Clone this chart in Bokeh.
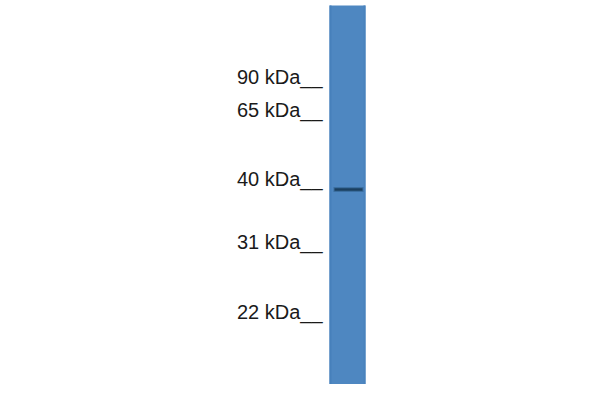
from bokeh.plotting import figure
from bokeh.models import Range1d
from bokeh.core.properties import value
from bokeh.embed import file_html
from bokeh.resources import INLINE

# Marker ladder (labels and their migration position on the blot, px from top)
marker_labels = ["90 kDa__", "65 kDa__", "40 kDa__", "31 kDa__", "22 kDa__"]
marker_pos = [76.5, 109.5, 178.5, 241.5, 311.5]

# Lane extent (migration, px) and detected band position
lane_top = [5]
lane_bottom = [397]
lane_left = [329]
lane_right = [365]
band_pos = [189]
band_left = [333]
band_right = [363]

p = figure(width=584, height=384, output_backend="svg", toolbar_location=None,
           x_range=Range1d(0, 584), y_range=Range1d(384, 0),
           min_border=0, outline_line_color=None, background_fill_color="white",
           border_fill_color="white")
p.axis.visible = False
p.grid.visible = False

# lane
p.quad(left=lane_left, right=lane_right, top=lane_top, bottom=lane_bottom,
       fill_color="#4e87c1", line_color=None)
# subtle darker edges
p.quad(left=lane_left, right=[l + 2 for l in lane_left], top=lane_top, bottom=lane_bottom,
       fill_color="#4680bb", line_color=None)
p.quad(left=[r - 2 for r in lane_right], right=lane_right, top=lane_top, bottom=lane_bottom,
       fill_color="#4a83bd", line_color=None)

# band
p.quad(left=band_left, right=band_right,
       top=[b - 2.5 for b in band_pos], bottom=[b + 2.5 for b in band_pos],
       fill_color="#2f5f8c", fill_alpha=0.6, line_color=None)
p.quad(left=[l + 1 for l in band_left], right=[r - 1 for r in band_right],
       top=[b - 1.3 for b in band_pos], bottom=[b + 1.3 for b in band_pos],
       fill_color="#1b3f5f", line_color=None)

# marker labels
p.text(x=[322] * len(marker_pos), y=marker_pos, text=marker_labels,
       text_align="right", text_baseline="middle",
       text_font=value("Liberation Sans"), text_font_size="20px",
       text_color="#1a1a1a")

open("out.html", "w").write(file_html(p, INLINE))
